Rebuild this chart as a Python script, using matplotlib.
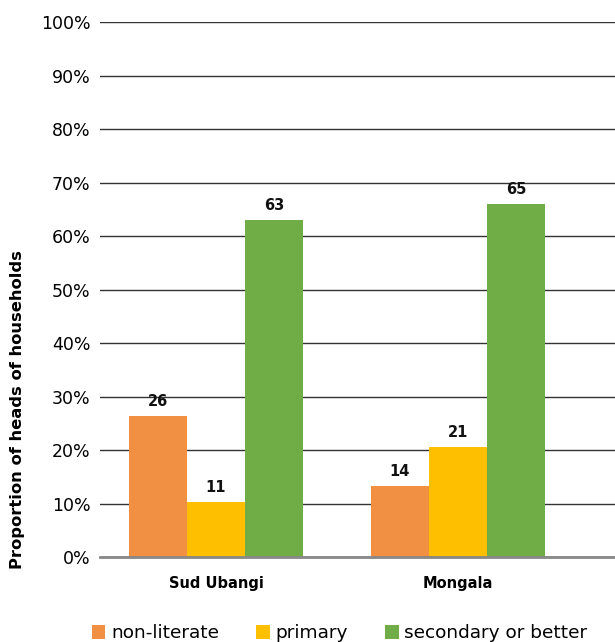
import matplotlib
matplotlib.use("Agg")
import matplotlib.pyplot as plt
import numpy as np

plt.rcParams['font.family'] = ['DejaVu Sans']

regions = ['Sud Ubangi', 'Mongala']
series = ['non-literate', 'primary', 'secondary or better']
# bar heights as drawn, and the rounded labels printed above them
heights = [[26.4, 13.3], [10.3, 20.6], [63.0, 66.0]]
labels = [[26, 14], [11, 21], [63, 65]]
colors = ['#f18f43', '#fdbf00', '#71ad47']

fig = plt.figure(figsize=(6.15, 6.42), dpi=100)
ax = fig.add_axes([0.1626, 0.1324, 0.8374, 0.8333])

x = np.arange(len(regions))
w = 0.24
for i, s in enumerate(series):
    pos = x + (i - 1) * w
    ax.bar(pos, heights[i], width=w, color=colors[i], label=s, zorder=3)
    for p, h, lab in zip(pos, heights[i], labels[i]):
        ax.text(p, h + 1.3, str(lab), ha='center', va='bottom',
                fontsize=10.5, fontweight='bold', color='#111111')

ax.set_ylim(0, 100)
ax.set_xlim(-0.48, 1.65)
ax.set_yticks(np.arange(0, 101, 10))
ax.set_yticklabels([f'{v}%' for v in range(0, 101, 10)], fontsize=12.5)
ax.set_xticks(x)
ax.set_xticklabels(regions, fontsize=10.5, fontweight='bold')
ax.tick_params(axis='both', length=0, pad=7)
ax.tick_params(axis='x', pad=14)
ax.grid(axis='y', color='#333333', linewidth=1, zorder=0)
for sp in ['top', 'right', 'left']:
    ax.spines[sp].set_visible(False)
ax.spines['bottom'].set_color('#888888')
ax.spines['bottom'].set_linewidth(2)
ax.spines['bottom'].set_zorder(4)

ax.set_ylabel('Proportion of heads of households', fontsize=11.8, fontweight='bold')
ax.yaxis.set_label_coords(-0.145, 0.275)

ax.legend(loc='upper center', bbox_to_anchor=(0.465, -0.105), ncol=3, frameon=False,
          fontsize=13.3, handlelength=0.75, handleheight=0.75, handletextpad=0.3,
          columnspacing=2.0, borderpad=0.1)

fig.savefig('out.png', dpi=100)
